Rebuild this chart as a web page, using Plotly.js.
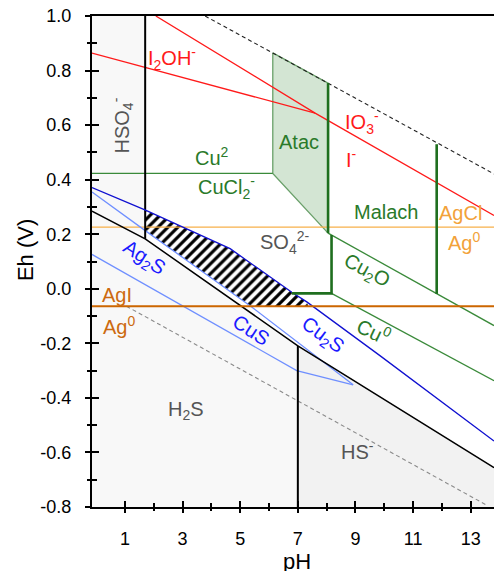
<!DOCTYPE html>
<html>
<head>
<meta charset="utf-8">
<script src="https://cdn.plot.ly/plotly-3.0.1.min.js"></script>
<style>html,body{margin:0;padding:0;overflow:hidden;background:#fff}</style>
</head>
<body>
<div id="chart" style="width:494px;height:571px"></div>
<script>
// ---------- axes ----------
const xTickVals = [1, 3, 5, 7, 9, 11, 13];
const xTickText = ['1', '3', '5', '7', '9', '11', '13'];
const xMinorVals = [2, 4, 6, 8, 10, 12];
const yTickVals = [-0.8, -0.6, -0.4, -0.2, 0.0, 0.2, 0.4, 0.6, 0.8, 1.0];
const yTickText = ['-0.8', '-0.6', '-0.4', '-0.2', '0.0', '0.2', '0.4', '0.6', '0.8', '1.0'];
const yMinorVals = [-0.7, -0.5, -0.3, -0.1, 0.1, 0.3, 0.5, 0.7, 0.9];
const xRange = [-0.146, 13.81];
const yRange = [-0.8, 1.0];

// ---------- sulfur (black) ----------
const sulfur_pH = [-0.146, 1.70, 7.00, 13.81];
const sulfur_Eh = [0.285, 0.183, -0.209, -0.656];
const hso4Vertical_pH = [1.70, 1.70];
const hso4Vertical_Eh = [1.0, 0.183];
const hsVertical_pH = [7.00, 7.00];
const hsVertical_Eh = [-0.209, -0.8];

// ---------- water stability (dashed) ----------
const waterUp_pH = [3.78, 13.81];
const waterUp_Eh = [1.0, 0.421];
const waterLow_pH = [1.05, 13.55];
const waterLow_Eh = [-0.064, -0.793];

// ---------- iodine (red) ----------
const iodate_pH = [2.07, 7.60, 13.81];
const iodate_Eh = [1.0, 0.644, 0.269];
const i2oh_pH = [-0.146, 7.60];
const i2oh_Eh = [0.864, 0.644];

// ---------- copper (green) ----------
const cuCl_pH = [-0.146, 6.13];
const cuCl_Eh = [0.423, 0.423];
const atac_pH = [6.13, 6.13, 8.05, 8.05, 6.13];
const atac_Eh = [0.865, 0.423, 0.204, 0.754, 0.865];
const malachCu2O_pH = [8.05, 13.81];
const malachCu2O_Eh = [0.204, -0.135];
const cu2OCu_pH = [8.17, 13.81];
const cu2OCu_Eh = [-0.017, -0.337];
const thickA_pH = [8.05, 8.05];
const thickA_Eh = [0.754, 0.204];
const thickB_pH = [6.79, 8.17, 8.17];
const thickB_Eh = [-0.017, -0.017, 0.197];
const thickC_pH = [11.82, 11.82];
const thickC_Eh = [0.530, -0.019];

// ---------- silver (orange) ----------
const agcl_pH = [-0.146, 13.81];
const agcl_Eh = [0.226, 0.226];
const agi_pH = [-0.146, 13.81];
const agi_Eh = [-0.064, -0.064];

// ---------- sulfides (blue) ----------
const darkBlue_pH = [-0.146, 1.69, 4.65, 6.79, 7.31, 9.85, 13.81];
const darkBlue_Eh = [0.371, 0.289, 0.147, -0.013, -0.048, -0.245, -0.558];
const lightBlueUp_pH = [-0.146, 1.69, 5.34, 8.92];
const lightBlueUp_Eh = [0.355, 0.214, -0.062, -0.352];
const lightBlueLow_pH = [-0.146, 6.96, 8.92];
const lightBlueLow_Eh = [0.126, -0.300, -0.352];
const hatch_pH = [1.69, 4.65, 6.79, 7.31, 7.36, 5.36, 1.69, 1.69];
const hatch_Eh = [0.289, 0.147, -0.013, -0.048, -0.064, -0.064, 0.214, 0.289];

// ---------- labels ----------
const labelText = ['HSO<sub>4</sub><sup>-</sup>', 'I<sub>2</sub>OH<sup>-</sup>', 'IO<sub>3</sub><sup>-</sup>', 'I<sup>-</sup>',
  'Atac', 'Cu<sup>2</sup>', 'CuCl<sub>2</sub><sup>-</sup>', 'Malach', 'AgCl', 'Ag<sup>0</sup>',
  'SO<sub>4</sub><sup>2-</sup>', 'Ag<sub>2</sub>S', 'AgI', 'Ag<sup>0</sup>', 'CuS', 'Cu<sub>2</sub>S',
  'Cu<sub>2</sub>O', 'Cu<sup>0</sup>', 'H<sub>2</sub>S', 'HS<sup>-</sup>'];
const label_pH = [0.90, 2.63, 9.23, 8.85, 7.04, 4.03, 4.51, 10.06, 12.63, 12.77,
  6.52, 1.66, 0.73, 0.79, 5.38, 7.84, 9.40, 9.65, 3.12, 9.06];
const label_Eh = [0.599, 0.846, 0.610, 0.478, 0.537, 0.486, 0.372, 0.280, 0.276, 0.173,
  0.170, 0.111, -0.021, -0.135, -0.150, -0.172, 0.063, -0.154, -0.447, -0.594];
const labelColor = ['#555555', '#ff1a1a', '#ff1a1a', '#ff1a1a', '#2a7a2a', '#2a7a2a', '#2a7a2a', '#2a7a2a', '#f2a23a', '#f2a23a',
  '#555555', '#1a1aff', '#cc6a10', '#cc6a10', '#1a1aff', '#1a1aff', '#2a7a2a', '#2a7a2a', '#555555', '#555555'];
const labelAngle = [-90, 0, 0, 0, 0, 0, 0, 0, 0, 0, 0, 33, 0, 0, 33, 36, 28, 25, 0, 0];

// ---------- colours ----------
const C = {
  black: '#000000', red: '#ff1a1a', green: '#3a8a3a', greenThick: '#1f6f1f', atacFill: '#d3e5d3', atacLine: '#6aa06a',
  blue: '#1010d0', lightBlue: '#6f8fff', orangeLight: '#f7b04a', orangeDark: '#cc6600',
  greyLight: '#f8f8f8', greyDark: '#f2f2f2'
};

function line(x, y, color, width, dash, extra) {
  return Object.assign({x: x, y: y, mode: 'lines', type: 'scatter', hoverinfo: 'skip',
    line: {color: color, width: width, dash: dash || 'solid'}}, extra || {});
}
function poly(x, y, fill) {
  return {x: x, y: y, mode: 'lines', type: 'scatter', fill: 'toself', fillcolor: fill,
    line: {width: 0, color: fill}, hoverinfo: 'skip'};
}

// grey region polygons built from the sulfur boundary
const hso4Poly_pH = [xRange[0], hso4Vertical_pH[0], hso4Vertical_pH[1], sulfur_pH[0], xRange[0]];
const hso4Poly_Eh = [yRange[1], hso4Vertical_Eh[0], hso4Vertical_Eh[1], sulfur_Eh[0], yRange[1]];
const h2sPoly_pH = [sulfur_pH[0], sulfur_pH[1], sulfur_pH[2], hsVertical_pH[1], xRange[0]];
const h2sPoly_Eh = [sulfur_Eh[0], sulfur_Eh[1], sulfur_Eh[2], hsVertical_Eh[1], yRange[0]];
const hsPoly_pH = [sulfur_pH[2], sulfur_pH[3], xRange[1], hsVertical_pH[1]];
const hsPoly_Eh = [sulfur_Eh[2], sulfur_Eh[3], yRange[0], yRange[0]];

const traces = [
  poly(hso4Poly_pH, hso4Poly_Eh, C.greyLight),
  poly(h2sPoly_pH, h2sPoly_Eh, C.greyLight),
  poly(hsPoly_pH, hsPoly_Eh, C.greyDark),
  {x: atac_pH, y: atac_Eh, mode: 'lines', type: 'scatter', fill: 'toself', fillcolor: C.atacFill,
    line: {color: C.atacLine, width: 1.3}, hoverinfo: 'skip'},
  {x: hatch_pH, y: hatch_Eh, mode: 'lines', type: 'scatter', fill: 'toself', fillcolor: 'white',
    fillpattern: {shape: '/', fgcolor: 'black', bgcolor: 'white', size: 7, solidity: 0.45},
    line: {width: 0, color: 'white'}, hoverinfo: 'skip'},
  line(waterUp_pH, waterUp_Eh, '#222222', 1.1, '4px,3px'),
  line(waterLow_pH, waterLow_Eh, '#8a8a8a', 1.1, '4px,3px'),
  line(agcl_pH, agcl_Eh, C.orangeLight, 1.3),
  line(cuCl_pH, cuCl_Eh, C.green, 1.3),
  line(malachCu2O_pH, malachCu2O_Eh, C.green, 1.3),
  line(cu2OCu_pH, cu2OCu_Eh, C.green, 1.3),
  line(i2oh_pH, i2oh_Eh, C.red, 1.3),
  line(iodate_pH, iodate_Eh, C.red, 1.3),
  line(lightBlueUp_pH, lightBlueUp_Eh, C.lightBlue, 1.3),
  line(lightBlueLow_pH, lightBlueLow_Eh, C.lightBlue, 1.3),
  line(sulfur_pH, sulfur_Eh, C.black, 1.5),
  line(hso4Vertical_pH, hso4Vertical_Eh, C.black, 2),
  line(hsVertical_pH, hsVertical_Eh, C.black, 2),
  line(darkBlue_pH, darkBlue_Eh, C.blue, 1.3),
  line(thickA_pH, thickA_Eh, C.greenThick, 2.6),
  line(thickB_pH, thickB_Eh, C.greenThick, 2.6),
  line(thickC_pH, thickC_Eh, C.greenThick, 2.6),
  line(agi_pH, agi_Eh, C.orangeDark, 2),
  {x: [], y: [], xaxis: 'x2', yaxis: 'y2', type: 'scatter', mode: 'lines', hoverinfo: 'skip'}
];

const font = 'Liberation Sans, Arial, Helvetica, sans-serif';
const annotations = labelText.map((t, i) => ({
  text: t, x: label_pH[i], y: label_Eh[i], xref: 'x', yref: 'y', showarrow: false,
  xanchor: 'center', yanchor: 'middle',
  textangle: labelAngle[i], font: {family: font, size: 20, color: labelColor[i]}
}));
annotations.push({text: 'Eh (V)', xref: 'paper', yref: 'paper', x: -0.167, y: 0.523, showarrow: false,
  xanchor: 'center', yanchor: 'middle', textangle: -90, font: {family: font, size: 22, color: 'black'}});
annotations.push({text: 'pH', xref: 'paper', yref: 'paper', x: 0.51, y: -0.082, xanchor: 'center', yanchor: 'top', showarrow: false,
  font: {family: font, size: 22, color: 'black'}});

const baseAxis = {showgrid: false, zeroline: false, fixedrange: true, tickcolor: 'black', tickwidth: 2, layer: 'above traces'};
const layout = {
  width: 494, height: 571,
  margin: {l: 92, r: 0, t: 16, b: 64, pad: 0},
  paper_bgcolor: 'white', plot_bgcolor: 'white', showlegend: false,
  font: {family: font, size: 18, color: 'black'},
  xaxis: Object.assign({}, baseAxis, {
    range: xRange, tickmode: 'array', tickvals: xTickVals, ticktext: xTickText, ticks: 'inside', ticklen: 6,
    showline: true, linewidth: 2, linecolor: 'black', mirror: true,
    tickfont: {family: font, size: 18, color: 'black'}, ticklabelstandoff: 14,
    minor: {tickmode: 'array', tickvals: xMinorVals, ticks: 'inside', ticklen: 4, tickwidth: 2, tickcolor: 'black'}
  }),
  yaxis: Object.assign({}, baseAxis, {
    range: yRange, tickmode: 'array', tickvals: yTickVals, ticktext: yTickText, ticks: 'inside', ticklen: 7,
    showline: true, linewidth: 2, linecolor: 'black', mirror: false,
    tickfont: {family: font, size: 18, color: 'black'}, ticklabelstandoff: 15,
    minor: {tickmode: 'array', tickvals: yMinorVals, ticks: 'inside', ticklen: 5, tickwidth: 2, tickcolor: 'black'}
  }),
  xaxis2: Object.assign({}, baseAxis, {
    overlaying: 'x', anchor: 'y2', range: xRange, tickmode: 'array', tickvals: xTickVals, ticks: 'outside', ticklen: 5,
    showticklabels: false, showline: false,
    minor: {tickmode: 'array', tickvals: xMinorVals, ticks: 'outside', ticklen: 3, tickwidth: 2, tickcolor: 'black'}
  }),
  yaxis2: Object.assign({}, baseAxis, {
    overlaying: 'y', anchor: 'x2', range: yRange, tickmode: 'array', tickvals: yTickVals, ticks: 'outside', ticklen: 6,
    showticklabels: false, showline: false,
    minor: {tickmode: 'array', tickvals: yMinorVals, ticks: 'outside', ticklen: 4, tickwidth: 2, tickcolor: 'black'}
  }),
  annotations: annotations
};

Plotly.newPlot('chart', traces, layout, {displayModeBar: false, staticPlot: true});
</script>
</body>
</html>
